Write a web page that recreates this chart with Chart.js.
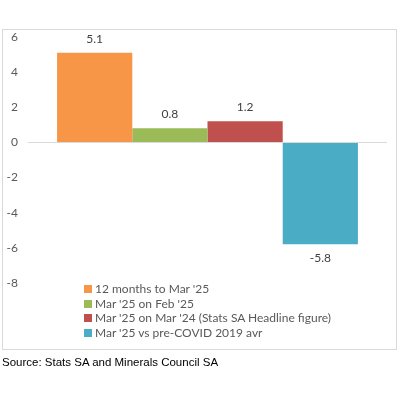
<!DOCTYPE html>
<html>
<head>
<meta charset="utf-8">
<script src="https://cdn.jsdelivr.net/npm/chart.js@4"></script>
<style>
body { margin: 0; background: #fff; }
#wrap { position: relative; width: 400px; height: 400px; }
#frame { position: absolute; left: 2px; top: 29px; width: 395px; height: 321px; border: 1px solid #d9d9d9; box-sizing: border-box; }
#legend { position: absolute; left: 84px; top: 282px; font: 12px Lato, sans-serif; color: #595959; }
#legend div { height: 14.7px; line-height: 14.7px; white-space: nowrap; }
#legend span { display: inline-block; width: 8px; height: 8px; margin-right: 3px; vertical-align: -0px; }
#source { position: absolute; left: 2px; top: 356px; font: 11.5px "Liberation Sans", Arial, sans-serif; color: #000; }
canvas { position: absolute; left: 0; top: 0; }
</style>
</head>
<body>
<div id="wrap">
  <div id="frame"></div>
  <canvas id="chart" width="400" height="400"></canvas>
  <div id="legend"></div>
  <div id="source">Source: Stats SA and Minerals Council SA</div>
</div>
<script>
var seriesNames = ["12 months to Mar '25", "Mar '25 on Feb '25", "Mar '25 on Mar '24 (Stats SA Headline figure)", "Mar '25 vs pre-COVID 2019 avr"]
var seriesValues = [5.1, 0.8, 1.2, -5.8]
var seriesColors = ['#F79646', '#9BBB59', '#C0504D', '#4BACC6']
var yTicks = [6, 4, 2, 0, -2, -4, -6, -8]

var datasets = []
for (i = 0; i < seriesNames.length; i++) {
    datasets.push({
        label: seriesNames[i],
        data: [seriesValues[i]],
        backgroundColor: seriesColors[i],
        barPercentage: 1,
        categoryPercentage: 0.838
    })
}

// value labels over / under each bar
var valueLabels = {
    id: 'valueLabels',
    afterDatasetsDraw: function(chart) {
        var c = chart.ctx
        c.save()
        c.font = '12px Lato, sans-serif'
        c.fillStyle = '#404040'
        c.textAlign = 'center'
        chart.data.datasets.forEach(function(ds, i) {
            var bar = chart.getDatasetMeta(i).data[0]
            var v = ds.data[0]
            if (v >= 0) {
                c.textBaseline = 'bottom'
                c.fillText(v.toFixed(1), bar.x, bar.y - 8)
            } else {
                c.textBaseline = 'top'
                c.fillText(v.toFixed(1), bar.x, bar.y + 8)
            }
        })
        c.restore()
    }
}

var ctx = document.getElementById('chart').getContext('2d')
var chart = new Chart(ctx, {
    type: 'bar',
    data: { labels: [''], datasets: datasets },
    options: {
        responsive: false,
        animation: false,
        layout: { padding: { top: 37, right: 13, bottom: 117, left: 0 } },
        plugins: { legend: { display: false }, tooltip: { enabled: false } },
        scales: {
            x: { display: false },
            y: {
                min: -8, max: 6,
                border: { display: false },
                afterFit: function(s) { s.width = 28 },
                afterBuildTicks: function(s) { s.ticks = yTicks.map(function(v) { return { value: v } }) },
                grid: {
                    drawTicks: false,
                    color: function(c) { return c.tick && c.tick.value === 0 ? '#d9d9d9' : 'rgba(0,0,0,0)' }
                },
                ticks: { padding: 10, color: '#595959', font: { size: 12, family: 'Lato, sans-serif' } }
            }
        }
    },
    plugins: [valueLabels]
})

var legend = document.getElementById('legend')
for (i = 0; i < seriesNames.length; i++) {
    var row = document.createElement('div')
    var sw = document.createElement('span')
    sw.style.background = seriesColors[i]
    row.appendChild(sw)
    row.appendChild(document.createTextNode(seriesNames[i]))
    legend.appendChild(row)
}
</script>
</body>
</html>
